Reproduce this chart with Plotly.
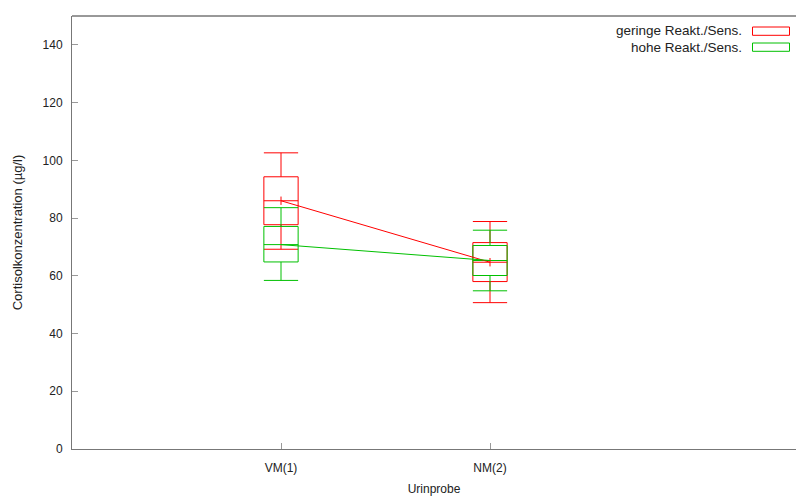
import plotly.graph_objects as go

# ---- data ----
categories = ["VM(1)", "NM(2)"]
series_names = ["geringe Reakt./Sens.", "hohe Reakt./Sens."]
# per series: min, Q1, median, Q3, max for each category
low_min = [69.2, 50.7]
low_q1 = [77.7, 58.0]
low_med = [86.0, 64.7]
low_q3 = [94.3, 71.5]
low_max = [102.6, 78.8]

high_min = [58.4, 54.8]
high_q1 = [64.8, 60.1]
high_med = [70.8, 65.3]
high_q3 = [77.1, 70.5]
high_max = [83.6, 75.8]

y_ticks = [0, 20, 40, 60, 80, 100, 120, 140]

colors = ["#ff0000", "#00c000"]
FONT = "Liberation Sans, Arial, Helvetica, sans-serif"
W, H = 796, 496
L, R, T, B = 72, 0, 16, 47
half = 0.082  # half box width in x units

positions = [i + 1 for i in range(len(categories))]

fig = go.Figure()


def box_traces(mins, q1s, meds, q3s, maxs, color, name):
    xs, ys = [], []
    for p, mn, a, m, b, mx in zip(positions, mins, q1s, meds, q3s, maxs):
        # box
        xs += [p - half, p + half, p + half, p - half, p - half, None]
        ys += [a, a, b, b, a, None]
        # median bar
        xs += [p - half, p + half, None]
        ys += [m, m, None]
        # whiskers
        xs += [p, p, None, p, p, None]
        ys += [b, mx, None, a, mn, None]
        # whisker caps
        xs += [p - half, p + half, None, p - half, p + half, None]
        ys += [mx, mx, None, mn, mn, None]
    fig.add_trace(go.Scatter(x=xs, y=ys, mode="lines", name=name,
                             line=dict(color=color, width=1),
                             showlegend=False, hoverinfo="skip"))


box_traces(low_min, low_q1, low_med, low_q3, low_max, colors[0], series_names[0])
box_traces(high_min, high_q1, high_med, high_q3, high_max, colors[1], series_names[1])

# median connecting lines
fig.add_trace(go.Scatter(x=positions, y=low_med, mode="lines+markers",
                         line=dict(color=colors[0], width=1),
                         marker=dict(symbol="line-ns", size=6,
                                     line=dict(color=colors[0], width=1)),
                         showlegend=False, name=series_names[0]))
fig.add_trace(go.Scatter(x=positions, y=high_med, mode="lines",
                         line=dict(color=colors[1], width=1),
                         showlegend=False, name=series_names[1]))

plot_w = W - L - R
plot_h = H - T - B
px_per_unit = 209.0
x_max = plot_w / px_per_unit

# manual legend
legend_text_x = (744 - L) / plot_w
rect_x0 = (752.5 - L) / plot_w
rect_x1 = (789.5 - L) / plot_w
for i, (nm, c) in enumerate(zip(series_names, colors)):
    yc = 31 + 16 * i
    fig.add_annotation(x=legend_text_x, y=(H - B - yc) / plot_h, xref="paper", yref="paper",
                       text=nm, showarrow=False, xanchor="right", yanchor="middle",
                       font=dict(family=FONT, size=13.5, color="#222"))
    fig.add_shape(type="rect", xref="paper", yref="paper",
                  x0=rect_x0, x1=rect_x1,
                  y0=(H - B - (yc - 4)) / plot_h, y1=(H - B - (yc + 4.3)) / plot_h,
                  line=dict(color=c, width=1), fillcolor="rgba(0,0,0,0)")

# top border
fig.add_shape(type="line", xref="paper", yref="paper", x0=0, x1=1, y0=1, y1=1,
              line=dict(color="#333", width=1))

fig.update_layout(
    width=W, height=H,
    margin=dict(l=L, r=R, t=T, b=B, pad=0),
    paper_bgcolor="white", plot_bgcolor="white",
    font=dict(family=FONT, size=12, color="#222"),
    showlegend=False,
    xaxis=dict(range=[0, x_max], tickvals=positions, ticktext=categories,
               showgrid=False, zeroline=False, showline=True, linecolor="#777",
               linewidth=1, ticks="inside", ticklen=6, tickcolor="#999",
               ticklabelstandoff=8,
               title=dict(text="Urinprobe", standoff=10,
                          font=dict(family=FONT, size=12, color="#222"))),
    yaxis=dict(range=[0, 150], tickvals=y_ticks,
               showgrid=False, zeroline=False, showline=True, linecolor="#777",
               linewidth=1, ticks="inside", ticklen=6, tickcolor="#999",
               ticklabelstandoff=6,
               title=dict(text="Cortisolkonzentration (µg/l)", standoff=17,
                          font=dict(family=FONT, size=13, color="#222"))),
)

fig.write_html("out.html")
